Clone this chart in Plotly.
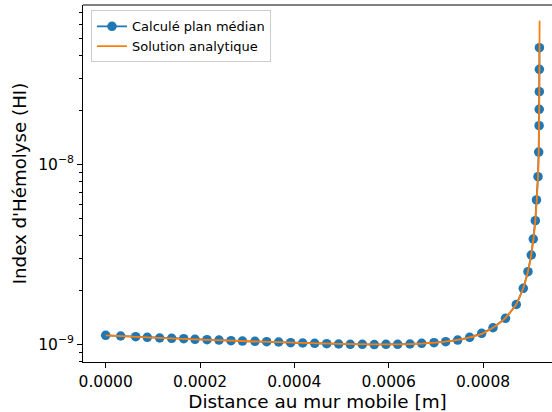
import plotly.graph_objects as go

# Distance au mur mobile [m]
x_calc = [0.0, 3.18e-5, 6.36e-5, 8.82e-5, 1.145e-4, 1.399e-4, 1.654e-4, 1.893e-4,
          2.148e-4, 2.402e-4, 2.657e-4, 2.900e-4, 3.165e-4, 3.414e-4, 3.668e-4,
          3.922e-4, 4.177e-4, 4.431e-4, 4.686e-4, 4.940e-4, 5.186e-4, 5.441e-4,
          5.695e-4, 5.943e-4, 6.191e-4, 6.452e-4, 6.700e-4, 6.961e-4, 7.209e-4,
          7.463e-4, 7.718e-4, 7.972e-4, 8.212e-4, 8.477e-4, 8.706e-4, 8.854e-4,
          8.954e-4, 9.024e-4, 9.066e-4, 9.109e-4, 9.134e-4, 9.166e-4, 9.181e-4,
          9.190e-4, 9.192e-4, 9.194e-4, 9.195e-4, 9.196e-4]
# Index d'Hémolyse calculé (plan médian)
hi_calc = [1.122e-9, 1.112e-9, 1.102e-9, 1.094e-9, 1.084e-9, 1.080e-9, 1.074e-9,
           1.066e-9, 1.061e-9, 1.056e-9, 1.047e-9, 1.042e-9, 1.039e-9, 1.034e-9,
           1.030e-9, 1.021e-9, 1.017e-9, 1.013e-9, 1.008e-9, 1.004e-9, 1.000e-9,
           1.000e-9, 0.997e-9, 1.000e-9, 1.000e-9, 1.004e-9, 1.013e-9, 1.021e-9,
           1.034e-9, 1.056e-9, 1.094e-9, 1.151e-9, 1.236e-9, 1.394e-9, 1.664e-9,
           2.047e-9, 2.531e-9, 3.134e-9, 3.846e-9, 4.862e-9, 6.336e-9, 8.533e-9,
           1.170e-8, 1.639e-8, 2.021e-8, 2.531e-8, 3.372e-8, 4.444e-8]

# Solution analytique
x_ana = [0.0, 1.0e-4, 2.0e-4, 3.0e-4, 4.0e-4, 5.0e-4, 5.7e-4, 6.2e-4, 6.7e-4,
         7.2e-4, 7.7e-4, 8.0e-4, 8.2e-4, 8.45e-4, 8.7e-4, 8.85e-4, 8.95e-4,
         9.02e-4, 9.07e-4, 9.11e-4, 9.14e-4, 9.165e-4, 9.18e-4, 9.19e-4,
         9.196e-4, 9.2e-4]
hi_ana = [1.120e-9, 1.088e-9, 1.063e-9, 1.040e-9, 1.021e-9, 1.005e-9, 0.998e-9,
          0.999e-9, 1.010e-9, 1.034e-9, 1.090e-9, 1.150e-9, 1.230e-9, 1.380e-9,
          1.660e-9, 2.040e-9, 2.520e-9, 3.120e-9, 3.850e-9, 4.860e-9, 6.330e-9,
          8.500e-9, 1.160e-8, 1.640e-8, 3.000e-8, 6.280e-8]

x_tickvals = [0.0, 0.0002, 0.0004, 0.0006, 0.0008]
y_tickvals = [1e-9, 1e-8]
y_ticktext = ["10<sup>−9</sup>", "10<sup>−8</sup>"]
y_minor = [8e-10, 9e-10, 2e-9, 3e-9, 4e-9, 5e-9, 6e-9, 7e-9, 8e-9, 9e-9,
           2e-8, 3e-8, 4e-8, 5e-8, 6e-8, 7e-8]

blue = "#1f77b4"
orange = "#ff7f0e"
font = "DejaVu Sans"

fig = go.Figure()
fig.add_trace(go.Scatter(x=x_calc, y=hi_calc, mode="lines+markers",
                         name="Calculé plan médian",
                         line=dict(color=blue, width=1.8),
                         marker=dict(color=blue, size=9.5)))
fig.add_trace(go.Scatter(x=x_ana, y=hi_ana, mode="lines",
                         name="Solution analytique",
                         line=dict(color=orange, width=1.8, shape="spline", smoothing=0.6)))

fig.update_layout(
    width=552, height=412,
    margin=dict(l=83, r=0, t=5, b=50),
    paper_bgcolor="white", plot_bgcolor="white",
    font=dict(family=font, color="black", size=15.5),
    showlegend=True,
    legend=dict(x=0.017, y=0.985, xanchor="left", yanchor="top",
                bgcolor="rgba(255,255,255,0.8)", bordercolor="#cccccc",
                borderwidth=1, font=dict(size=13, family=font)),
)
fig.update_xaxes(
    range=[-4.81e-5, 9.463e-4], automargin=False,
    tickvals=x_tickvals, tickformat=".4f",
    ticks="outside", ticklen=5, tickcolor="black", tickwidth=1,
    showline=True, linecolor="black", linewidth=1, mirror=False,
    showgrid=False, zeroline=False,
    title=dict(text="Distance au mur mobile [m]", font=dict(size=18.4, family=font), standoff=4),
)
fig.update_yaxes(
    type="log", range=[-9.0983, -7.115], automargin=False,
    tickvals=y_tickvals, ticktext=y_ticktext,
    ticks="outside", ticklen=5, tickcolor="black", tickwidth=1,
    minor=dict(tickvals=y_minor, ticks="outside", ticklen=3, tickcolor="black", tickwidth=0.8),
    showline=True, linecolor="black", linewidth=1,
    showgrid=False, zeroline=False,
    title=dict(text="Index d'Hémolyse (HI)", font=dict(size=18.2, family=font), standoff=6),
)
# top frame line
fig.add_shape(type="line", xref="paper", yref="paper", x0=0, x1=1, y0=1, y1=1,
              line=dict(color="black", width=1))

fig.write_html("out.html", config={"displayModeBar": False},
               post_script="document.body.style.margin='0';document.body.style.overflow='hidden';")
